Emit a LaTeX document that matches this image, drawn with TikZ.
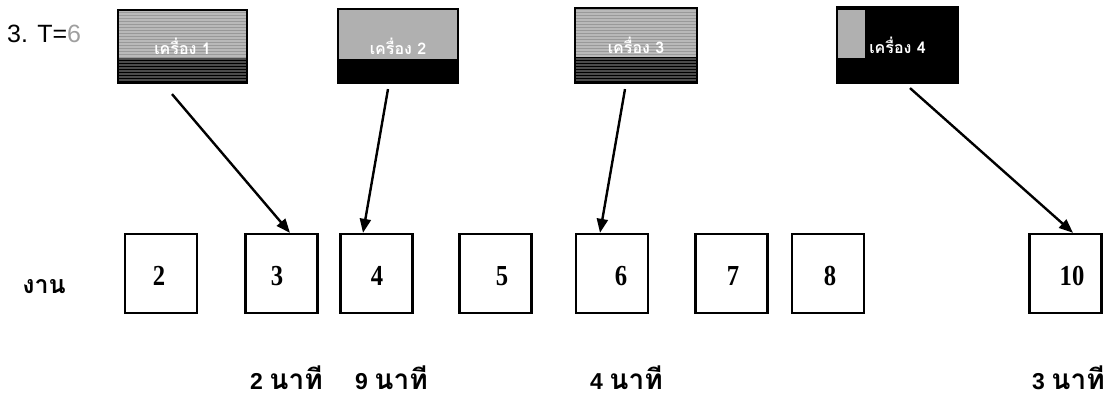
\documentclass[tikz,border=0pt]{standalone}
\usepackage{fontspec}
\setmainfont{Liberation Sans}
\newfontfamily\thaifont[Script=Thai]{Loma}
\newfontfamily\numfont{Liberation Serif}
\usetikzlibrary{arrows.meta,patterns}

\newcommand{\thaiword}[1]{{\thaifont\fontsize{28}{28}\selectfont #1}}

\begin{document}
\begin{tikzpicture}[x=1pt,y=-1pt,
  machine/.style={draw=black, line width=2.2pt, inner sep=0pt, text=white,
    font=\thaifont\bfseries\fontsize{16}{16}\selectfont},
  jobbox/.style={draw=black, line width=2.3pt, minimum width=72pt,
    minimum height=79pt, inner sep=0pt},
  num/.style={font=\numfont\bfseries\fontsize{29}{29}\selectfont, inner sep=0pt},
  minutes/.style={anchor=base west, inner sep=0pt,
    font=\bfseries\fontsize{23}{23}\selectfont},
  arr/.style={line width=2.4pt, -{Triangle[length=14pt,width=11pt]}}]

\useasboundingbox (0,0) rectangle (1117,403);

% title
\node[anchor=base west, inner sep=0pt, font=\fontsize{25}{25}\selectfont]
  (title) at (7,43) {3. T=\textcolor{gray!75}{6}};

% machine 1: textured grey top, darker textured bottom
\fill[gray!55] (118,10) rectangle (247,58);
\fill[pattern=horizontal lines, pattern color=gray!80] (118,10) rectangle (247,58);
\fill[gray!60!black] (118,58) rectangle (247,83);
\fill[pattern=horizontal lines, pattern color=black] (118,58) rectangle (247,83);
\node[machine, minimum width=129pt, minimum height=73pt] (m1) at (182.5,46.5)
  {\raisebox{-2pt}{เครื่อง 1}};

% machine 2: grey top, black bottom
\fill[gray!62] (338,9) rectangle (458,59);
\fill[black] (338,59) rectangle (458,83);
\node[machine, minimum width=120pt, minimum height=74pt] (m2) at (398,46)
  {เครื่อง 2};

% machine 3: same texture as machine 1
\fill[gray!55] (575,8) rectangle (697,57);
\fill[pattern=horizontal lines, pattern color=gray!80] (575,8) rectangle (697,57);
\fill[gray!60!black] (575,57) rectangle (697,83);
\fill[pattern=horizontal lines, pattern color=black] (575,57) rectangle (697,83);
\node[machine, minimum width=122pt, minimum height=75pt] (m3) at (636,45.5)
  {\raisebox{-2pt}{เครื่อง 3}};

% machine 4: black with a grey strip on the upper left
\fill[black] (837,7) rectangle (958,83);
\fill[gray!62] (837,10) rectangle (865,58);
\node[machine, minimum width=121pt, minimum height=76pt] (m4) at (897.5,45)
  {เครื่อง 4};

% row label
\node[anchor=base, inner sep=0pt, font=\thaifont\bfseries\fontsize{25}{25}\selectfont]
  (lbl) at (44,294) {งาน};

% job boxes
\node[jobbox] (j2)  at (161,273.5) {};
\node[jobbox] (j3)  at (281.5,273.5) {};
\node[jobbox] (j4)  at (376.5,273.5) {};
\node[jobbox] (j5)  at (495.5,273.5) {};
\node[jobbox] (j6)  at (612,273.5) {};
\node[jobbox] (j7)  at (731.5,273.5) {};
\node[jobbox] (j8)  at (828,273.5) {};
\node[jobbox] (j10) at (1065.5,273.5) {};

% job numbers
\node[num] (t2)  at (159,276) {\scalebox{0.85}[1]{2}};
\node[num] (t3)  at (277,276) {\scalebox{0.85}[1]{3}};
\node[num] (t4)  at (377,276) {\scalebox{0.85}[1]{4}};
\node[num] (t5)  at (502,276) {\scalebox{0.85}[1]{5}};
\node[num] (t6)  at (621,276) {\scalebox{0.85}[1]{6}};
\node[num] (t7)  at (733,276) {\scalebox{0.85}[1]{7}};
\node[num] (t8)  at (830,276) {\scalebox{0.85}[1]{8}};
\node[num] (t10) at (1072,276) {\scalebox{0.85}[1]{10}};

% assignments
\draw[arr] ([xshift=-10.5pt,yshift=-10pt]m1.south) -- ([xshift=8.5pt]j3.north);
\draw[arr] ([xshift=-10pt,yshift=-5pt]m2.south) -- ([xshift=-13.5pt]j4.north);
\draw[arr] ([xshift=-11pt,yshift=-5pt]m3.south) -- ([xshift=-12pt]j6.north);
\draw[arr] ([xshift=12.5pt,yshift=-4pt]m4.south) -- ([xshift=7.5pt]j10.north);

% remaining times
\node[minutes] (d3)  at (250,389)  {2 \thaiword{นาที}};
\node[minutes] (d4)  at (355,389)  {9 \thaiword{นาที}};
\node[minutes] (d6)  at (590,389)  {4 \thaiword{นาที}};
\node[minutes] (d10) at (1032,389) {3 \thaiword{นาที}};
\end{tikzpicture}
\end{document}
